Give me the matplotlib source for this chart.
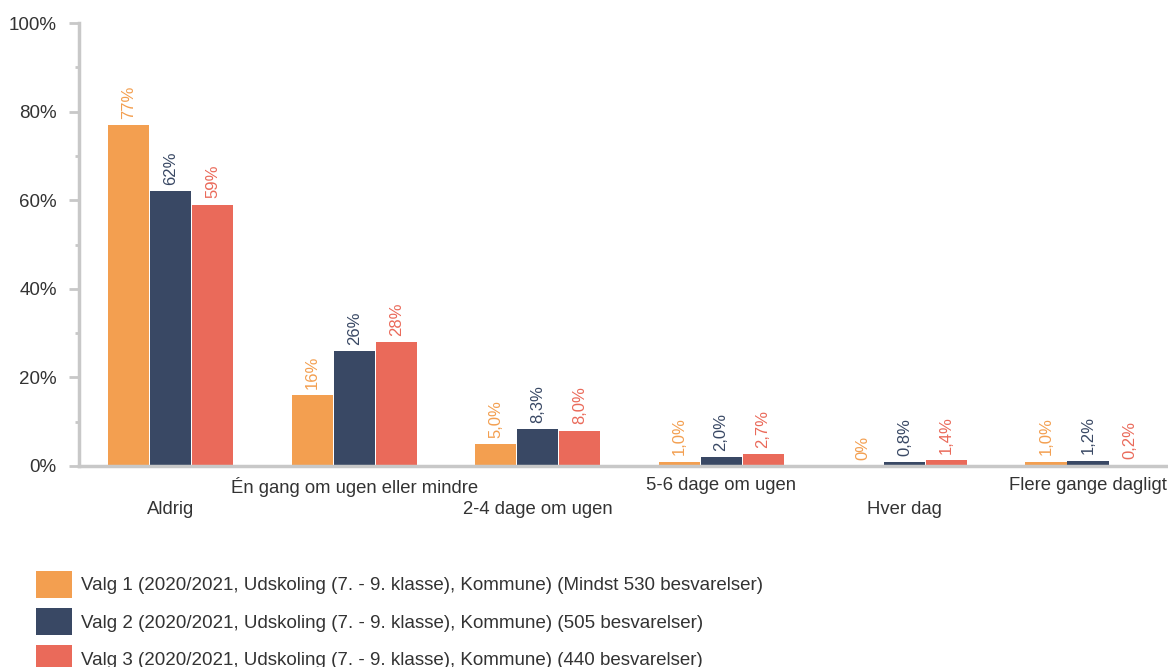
import matplotlib
matplotlib.use('Agg')
import matplotlib.pyplot as plt
import numpy as np

categories = ['Aldrig', 'Én gang om ugen eller mindre', '2-4 dage om ugen',
	'5-6 dage om ugen', 'Hver dag', 'Flere gange dagligt']
series_names = [
	'Valg 1 (2020/2021, Udskoling (7. - 9. klasse), Kommune) (Mindst 530 besvarelser)',
	'Valg 2 (2020/2021, Udskoling (7. - 9. klasse), Kommune) (505 besvarelser)',
	'Valg 3 (2020/2021, Udskoling (7. - 9. klasse), Kommune) (440 besvarelser)',
]
valg1 = [77, 16, 5.0, 1.0, 0, 1.0]
valg2 = [62, 26, 8.3, 2.0, 0.8, 1.2]
valg3 = [59, 28, 8.0, 2.7, 1.4, 0.2]
labels1 = ['77%', '16%', '5,0%', '1,0%', '0%', '1,0%']
labels2 = ['62%', '26%', '8,3%', '2,0%', '0,8%', '1,2%']
labels3 = ['59%', '28%', '8,0%', '2,7%', '1,4%', '0,2%']
colors = ['#F39F50', '#394864', '#EA6A5A']

plt.rcParams['font.family'] = ['Liberation Sans', 'DejaVu Sans']

fig = plt.figure(figsize=(11.68, 6.67), dpi=100)
ax = fig.add_axes([79/1168., 1-466/667., 1-79/1168., (466-23)/667.])

x = np.arange(len(categories))
step = 0.229
width = 0.224
handles = []
for i, (vals, labs) in enumerate(zip([valg1, valg2, valg3], [labels1, labels2, labels3])):
	pos = x + (i-1)*step
	b = ax.bar(pos, vals, width=width, color=colors[i], label=series_names[i])
	handles.append(b)
	for p, v, l in zip(pos, vals, labs):
		ax.annotate(l, (p, v), xytext=(0, 4.5), textcoords='offset points',
			rotation=90, ha='center', va='bottom', fontsize=12, color=colors[i])

ax.set_xlim(-0.5, 5.436)
ax.set_ylim(0, 100)
ax.set_yticks(range(0, 101, 20))
ax.set_yticks(range(10, 100, 20), minor=True)
ax.set_yticklabels(['%d%%' % t for t in range(0, 101, 20)])
ax.set_xticks(x)
ax.set_xticklabels(categories)

for s in ['top', 'right']:
	ax.spines[s].set_visible(False)
for s in ['left', 'bottom']:
	ax.spines[s].set_color('#c8c8c8')
	ax.spines[s].set_linewidth(2.5)

ax.tick_params(axis='y', which='major', length=7, width=2, color='#c8c8c8',
	labelsize=13.5, labelcolor='#333333', pad=9)
ax.tick_params(axis='y', which='minor', length=3, width=2, color='#c8c8c8')
ax.tick_params(axis='x', length=0, labelsize=13.3, labelcolor='#333333')
# staggered category names
for i, t in enumerate(ax.xaxis.get_major_ticks()):
	if i % 2 == 0:
		t.set_pad(25)
	else:
		t.set_pad(8)

fig.legend(handles=handles, loc='upper left', bbox_to_anchor=(28/1168., 1-563/667.),
	frameon=False, fontsize=13.5, handlelength=1.97, handleheight=1.87,
	handletextpad=0.45, labelspacing=0.53, labelcolor='#333333', borderaxespad=0)

plt.savefig('out.png', dpi=100)
plt.close()
